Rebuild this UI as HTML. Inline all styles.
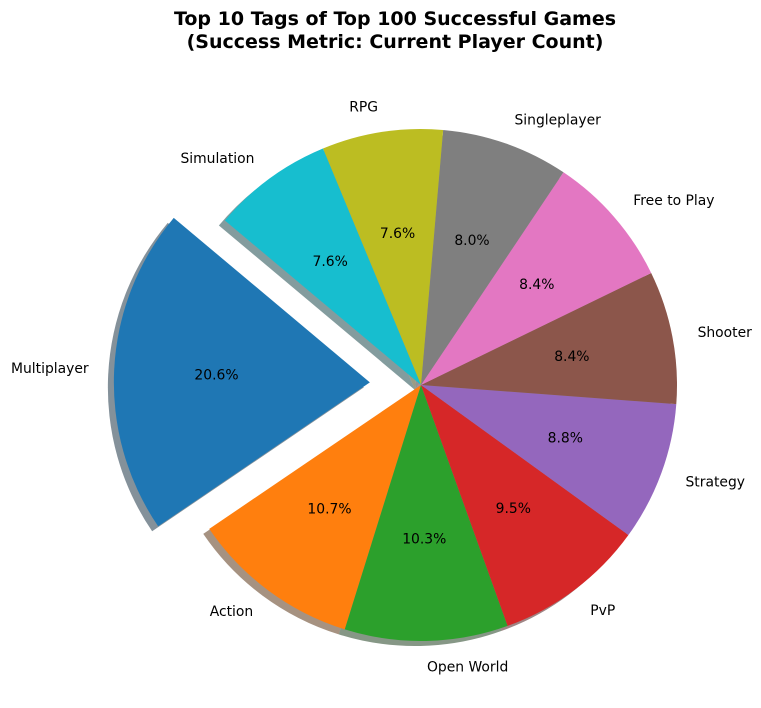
<!DOCTYPE html>
<html><head><meta charset="utf-8"><style>
body{margin:0;background:#fff;}
svg text{font-family:"DejaVu Sans","Liberation Sans",sans-serif;}
</style></head><body>
<svg id="c" width="761" height="703" viewBox="0 0 761 703" xmlns="http://www.w3.org/2000/svg">
<text x="395" y="25" text-anchor="middle" font-size="19" font-weight="bold">Top 10 Tags of Top 100 Successful Games</text>
<text x="395" y="48" text-anchor="middle" font-size="19" font-weight="bold">(Success Metric: Current Player Count)</text>
<g id="shadows"></g><g id="slices"></g><g id="labels"></g>
</svg>
<script>
const categories=["Multiplayer","Action","Open World","PvP","Strategy","Shooter","Free to Play","Singleplayer","RPG","Simulation"];
const values=[54,28,27,25,23,22,22,21,20,20];
const explode=[0.2,0,0,0,0,0,0,0,0,0];
const colors=["#1f77b4","#ff7f0e","#2ca02c","#d62728","#9467bd","#8c564b","#e377c2","#7f7f7f","#bcbd22","#17becf"];
const cx=421,cy=385,R=256,start=140;
const total=values.reduce((a,b)=>a+b,0);
const NS="http://www.w3.org/2000/svg";
function pt(a,r,ox,oy){const t=a*Math.PI/180;return [ox+r*Math.cos(t),oy-r*Math.sin(t)];}
function wedge(a0,a1,ox,oy){const p0=pt(a0,R,ox,oy),p1=pt(a1,R,ox,oy);const large=(a1-a0)>180?1:0;
return `M${ox},${oy}L${p0[0]},${p0[1]}A${R},${R} 0 ${large} 0 ${p1[0]},${p1[1]}Z`;}
function dark(h){const n=parseInt(h.slice(1),16);const r=(n>>16)*0.3,g=((n>>8)&255)*0.3,b=(n&255)*0.3;return `rgb(${r},${g},${b})`;}
let a=start;
const S=document.getElementById('shadows'),P=document.getElementById('slices'),L=document.getElementById('labels');
values.forEach((v,i)=>{
 const span=v/total*360,mid=a+span/2;
 const off=pt(mid,explode[i]*R,cx,cy);
 const sh=document.createElementNS(NS,'path');
 sh.setAttribute('d',wedge(a,a+span,off[0]-6,off[1]+5));
 sh.setAttribute('fill',dark(colors[i]));sh.setAttribute('fill-opacity','0.5');
 
 
 S.appendChild(sh);
 const p=document.createElementNS(NS,'path');
 p.setAttribute('d',wedge(a,a+span,off[0],off[1]));p.setAttribute('fill',colors[i]);
 
 
 P.appendChild(p);
 const lp=pt(mid,1.1*R,off[0],off[1]);
 const t=document.createElementNS(NS,'text');
 t.setAttribute('x',lp[0]);t.setAttribute('y',lp[1]+5);t.setAttribute('font-size','13.9');
 t.setAttribute('text-anchor',Math.cos(mid*Math.PI/180)>=0?'start':'end');
 t.textContent=categories[i];
 
 
 L.appendChild(t);
 const pp=pt(mid,0.6*R,off[0],off[1]);
 const q=document.createElementNS(NS,'text');
 q.setAttribute('x',pp[0]);q.setAttribute('y',pp[1]+5);q.setAttribute('font-size','13.9');q.setAttribute('text-anchor','middle');
 q.textContent=(v/total*100).toFixed(1)+'%';
 
 
 L.appendChild(q);
 a+=span;
});
</script>
</body></html>
